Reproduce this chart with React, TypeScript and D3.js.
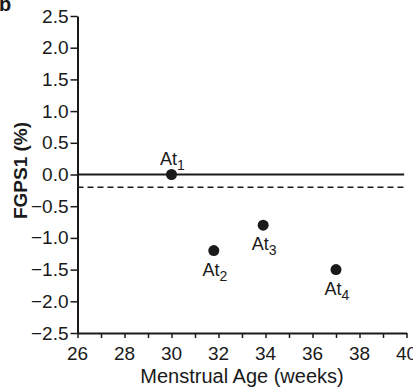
import React, { useEffect, useRef } from 'react';
import * as d3 from 'd3';

const weeks = [30, 31.8, 33.9, 37.0];
const fgps1 = [0.0, -1.2, -0.8, -1.5];
const labels = ['1', '2', '3', '4'];
const labelAbove = [true, false, false, false];

const xTicks = d3.range(26, 41, 1);
const xTickLabels = [26, 28, 30, 32, 34, 36, 38, 40];
const yTicks = [2.5, 2.0, 1.5, 1.0, 0.5, 0.0, -0.5, -1.0, -1.5, -2.0, -2.5];
const refSolid = 0.0;
const refDashed = -0.2;

const font = 'Liberation Sans, Arial, Helvetica, sans-serif';

const App: React.FC = () => {
  const svgRef = useRef<SVGSVGElement | null>(null);

  useEffect(() => {
    if (!svgRef.current) return;
    const svg = d3.select(svgRef.current);
    svg.selectAll('*').remove();

    const width = 413;
    const height = 390;
    const ink = '#1a1a1a';

    const x = d3.scaleLinear().domain([26, 40]).range([77.5, 406.5]);
    const y = d3.scaleLinear().domain([-2.5, 2.5]).range([333, 16]);

    svg.attr('width', width).attr('height', height);

    // panel letter, clipped at top
    svg.append('text')
      .attr('x', -1)
      .attr('y', 11)
      .attr('font-family', font)
      .attr('font-weight', 'bold')
      .attr('font-size', 20)
      .attr('fill', ink)
      .text('b');

    // x axis
    const xAxis = svg.append('g')
      .attr('transform', `translate(0,${y(-2.5)})`)
      .call(d3.axisBottom(x).tickValues(xTicks).tickSize(5).tickSizeOuter(0).tickFormat(() => ''));
    xAxis.select('.domain').attr('stroke', ink).attr('stroke-width', 2);
    xAxis.selectAll('.tick line').attr('stroke', ink).attr('stroke-width', 1.5);

    svg.append('g')
      .selectAll('text')
      .data(xTickLabels)
      .enter().append('text')
      .attr('x', d => x(d))
      .attr('y', 360)
      .attr('text-anchor', 'middle')
      .attr('font-family', font)
      .attr('font-size', 19)
      .attr('fill', ink)
      .text(d => d);

    svg.append('text')
      .attr('x', (x(26) + x(40)) / 2)
      .attr('y', 383)
      .attr('text-anchor', 'middle')
      .attr('font-family', font)
      .attr('font-size', 20)
      .attr('fill', ink)
      .text('Menstrual Age (weeks)');

    // y axis
    const yAxis = svg.append('g')
      .attr('transform', `translate(${x(26)},0)`)
      .call(d3.axisLeft(y).tickValues(yTicks).tickSize(7).tickSizeOuter(0).tickPadding(2)
        .tickFormat(d => d3.format('.1f')(d as number).replace('-', '\u2212')));
    yAxis.select('.domain').attr('stroke', ink).attr('stroke-width', 2);
    yAxis.selectAll('.tick line').attr('stroke', ink).attr('stroke-width', 1.5);
    yAxis.selectAll('.tick text')
      .attr('font-family', font)
      .attr('font-size', 19)
      .attr('fill', ink);

    svg.append('text')
      .attr('transform', `translate(26.5,${(y(2.5) + y(-2.5)) / 2 - 4}) rotate(-90)`)
      .attr('text-anchor', 'middle')
      .attr('font-family', font)
      .attr('font-weight', 'bold')
      .attr('font-size', 19)
      .attr('fill', ink)
      .text('FGPS1 (%)');

    // reference lines
    svg.append('line')
      .attr('x1', x(26)).attr('x2', x(39.9))
      .attr('y1', y(refSolid)).attr('y2', y(refSolid))
      .attr('stroke', ink).attr('stroke-width', 1.8);
    svg.append('line')
      .attr('x1', x(26)).attr('x2', x(39.9))
      .attr('y1', y(refDashed)).attr('y2', y(refDashed))
      .attr('stroke', ink).attr('stroke-width', 1.5)
      .attr('stroke-dasharray', '6,4');

    // points
    const pts = weeks.map((w, i) => ({ w, v: fgps1[i], lab: labels[i], above: labelAbove[i] }));
    svg.selectAll('.dot')
      .data(pts)
      .enter().append('circle')
      .attr('class', 'dot')
      .attr('cx', d => x(d.w))
      .attr('cy', d => y(d.v))
      .attr('r', 5.5)
      .attr('fill', ink);

    const lbl = svg.selectAll('.lbl')
      .data(pts)
      .enter().append('text')
      .attr('class', 'lbl')
      .attr('x', d => x(d.w) + 1)
      .attr('y', d => y(d.v) + (d.above ? -10 : 25))
      .attr('text-anchor', 'middle')
      .attr('font-family', font)
      .attr('font-size', 18)
      .attr('fill', ink);
    lbl.append('tspan').text('At');
    lbl.append('tspan')
      .attr('font-size', 14)
      .attr('dy', 5)
      .text(d => d.lab);
  }, []);

  return (
    <svg ref={svgRef} style={{ position: 'absolute', left: 0, top: 0 }}></svg>
  );
};

export default App;
